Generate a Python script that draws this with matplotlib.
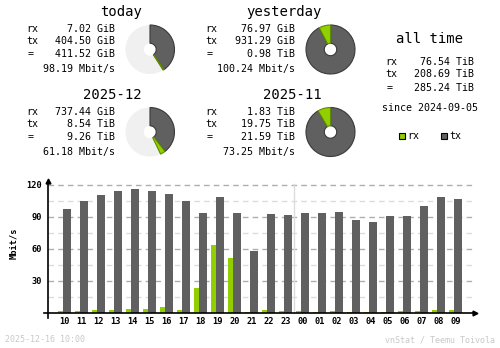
import matplotlib
matplotlib.use("Agg")
import matplotlib.pyplot as plt
from matplotlib.patches import Wedge, Rectangle

# ---------------- data ----------------
titles = ["today", "yesterday", "2025-12", "2025-11"]
rx_vals = [7.02, 76.97, 737.44, 1.83]
rx_units = ["GiB", "GiB", "GiB", "TiB"]
tx_vals = [404.50, 931.29, 8.54, 19.75]
tx_units = ["GiB", "GiB", "TiB", "TiB"]
tot_vals = [411.52, 0.98, 9.26, 21.59]
tot_units = ["GiB", "TiB", "TiB", "TiB"]
rates = [98.19, 100.24, 61.18, 73.25]

alltime_rx = 76.54
alltime_tx = 208.69
alltime_tot = 285.24
since = "2024-09-05"

hours = ["10", "11", "12", "13", "14", "15", "16", "17", "18", "19", "20", "21",
         "22", "23", "00", "01", "02", "03", "04", "05", "06", "07", "08", "09"]
hour_rx = [2.2, 2.2, 3.1, 3.1, 4.1, 4.1, 5.9, 3.1, 23.8, 64.0, 51.9, 1.2,
           3.1, 2.2, 2.2, 1.2, 2.2, 1.2, 1.2, 1.2, 2.2, 2.2, 3.1, 3.1]
hour_tx = [97.8, 105.3, 110.9, 114.7, 116.6, 114.7, 111.9, 105.3, 94.1, 109.1, 94.1, 58.4,
           93.1, 92.2, 94.1, 94.1, 95.0, 87.5, 85.6, 91.3, 91.3, 100.6, 109.1, 107.2]
y_ticks = [30, 60, 90, 120]
y_minor = [15, 45, 75, 105]

timestamp = "2025-12-16 10:00"
credit = "vnStat / Teemu Toivola"

# ---------------- style ----------------
RX = "#92CF00"
RX_EDGE = "#5E8A00"
TX = "#606060"
TX_EDGE = "#3A3A3A"
PIEBG = "#F0F0F0"
MONO = "DejaVu Sans Mono"

W, H = 500, 348
fig = plt.figure(figsize=(W / 100, H / 100), dpi=100)
fig.patch.set_facecolor("white")


def ftext(x, y, s, **kw):
    kw.setdefault("family", MONO)
    kw.setdefault("va", "center")
    fig.text(x / W, 1 - y / H, s, **kw)


def to_gib(v, u):
    return v * 1024 if u == "TiB" else v


# ---------------- summary blocks ----------------
blocks = [
    # label x, value right x, title right x, y offset, pie centre
    (26, 115, 142, 0, (150, 49.5)),
    (205, 295, 322, 0, (330.5, 49.5)),
    (26, 115, 142, 83, (150, 132)),
    (205, 295, 322, 83, (330.5, 132)),
]
prev_index = {0: 1, 2: 3}

for i, (lx, vx, tx_, dy, (cx, cy)) in enumerate(blocks):
    ftext(tx_, 12 + dy, titles[i], ha="right", fontsize=10)
    ftext(lx, 29 + dy, "rx", ha="left", fontsize=7.2)
    ftext(lx, 41 + dy, "tx", ha="left", fontsize=7.2)
    ftext(lx + 2, 54 + dy, "=", ha="left", fontsize=7.2)
    ftext(vx, 29 + dy, f"{rx_vals[i]:.2f} {rx_units[i]}", ha="right", fontsize=7.2)
    ftext(vx, 41 + dy, f"{tx_vals[i]:.2f} {tx_units[i]}", ha="right", fontsize=7.2)
    ftext(vx, 54 + dy, f"{tot_vals[i]:.2f} {tot_units[i]}", ha="right", fontsize=7.2)
    ftext(vx, 69 + dy, f"{rates[i]:.2f} Mbit/s", ha="right", fontsize=7.2)

    # donut
    pax = fig.add_axes([(cx - 26) / W, 1 - (cy + 26) / H, 52 / W, 52 / H])
    pax.set_xlim(-26, 26)
    pax.set_ylim(-26, 26)
    pax.axis("off")
    R, Wd = 24.5, 18.3
    rxg = to_gib(rx_vals[i], rx_units[i])
    txg = to_gib(tx_vals[i], tx_units[i])
    if i in prev_index:
        j = prev_index[i]
        fill = to_gib(tot_vals[i], tot_units[i]) / to_gib(tot_vals[j], tot_units[j])
        fill = min(fill, 1.0)
        pax.add_patch(Wedge((0, 0), R, 0, 360, width=Wd, facecolor=PIEBG, edgecolor="none"))
    else:
        fill = 1.0
    total_angle = 360 * fill
    a_tx = total_angle * txg / (txg + rxg)
    a_rx = total_angle - a_tx
    pax.add_patch(Wedge((0, 0), R, 90 - a_tx, 90, width=Wd,
                        facecolor=TX, edgecolor=TX_EDGE, linewidth=0.8))
    pax.add_patch(Wedge((0, 0), R, 90 - a_tx - a_rx, 90 - a_tx, width=Wd,
                        facecolor=RX, edgecolor=RX_EDGE, linewidth=0.8))

# all time block
ftext(429, 39, "all time", ha="center", fontsize=10)
ftext(385, 62, "rx", ha="left", fontsize=7.2)
ftext(385, 74, "tx", ha="left", fontsize=7.2)
ftext(387, 88, "=", ha="left", fontsize=7.2)
ftext(474, 62, f"{alltime_rx:.2f} TiB", ha="right", fontsize=7.2)
ftext(474, 74, f"{alltime_tx:.2f} TiB", ha="right", fontsize=7.2)
ftext(474, 88, f"{alltime_tot:.2f} TiB", ha="right", fontsize=7.2)
ftext(430, 108, f"since {since}", ha="center", fontsize=7.2)

# legend
fig.patches.append(Rectangle((399 / W, 1 - 139 / H), 6 / W, 6 / H, transform=fig.transFigure,
                             facecolor=RX, edgecolor="black", linewidth=0.8))
ftext(407, 136, "rx", ha="left", fontsize=7.2)
fig.patches.append(Rectangle((441 / W, 1 - 139 / H), 6 / W, 6 / H, transform=fig.transFigure,
                             facecolor=TX, edgecolor="black", linewidth=0.8))
ftext(449, 136, "tx", ha="left", fontsize=7.2)

# ---------------- hourly chart ----------------
STRIDE = 17.0
X0 = 64.8
left_px, right_px = 43.5, 478.0
top_px, bot_px = 178.0, 319.0
zero_px, scale = 313.3, 128.0 / 120.0

xmin = (left_px - X0) / STRIDE
xmax = (right_px - X0) / STRIDE
ymin = -(bot_px - zero_px) / scale
ymax = (zero_px - top_px) / scale

ax = fig.add_axes([left_px / W, 1 - bot_px / H, (right_px - left_px) / W, (bot_px - top_px) / H])
ax.set_xlim(xmin, xmax)
ax.set_ylim(ymin, ymax)
ax.axis("off")

yax_x = (48.3 - X0) / STRIDE
grid_end = (472.7 - X0) / STRIDE

for v in y_minor:
    ax.plot([yax_x, grid_end], [v, v], color="#DCDCDC", lw=1, ls=(0, (4, 3)), zorder=1)
for v in y_ticks:
    ax.plot([yax_x, grid_end], [v, v], color="#AEAEAE", lw=1, ls=(0, (4, 3)), zorder=1)

# day boundary
ax.plot([13.5, 13.5], [0, 121], color="#DCDCDC", lw=1, zorder=1)

xs = list(range(len(hours)))
ax.bar([x - 4 / STRIDE for x in xs], hour_rx, width=5 / STRIDE, color=RX, zorder=2, linewidth=0)
ax.bar([x + 2.5 / STRIDE for x in xs], hour_tx, width=8 / STRIDE, color=TX, zorder=2, linewidth=0)

# axes lines
ax.plot([yax_x, yax_x], [ymin + 0.9, 123], color="black", lw=1.2, zorder=3, clip_on=False)
ax.plot([(44 - X0) / STRIDE, (474 - X0) / STRIDE], [0, 0], color="black", lw=1.2, zorder=3, clip_on=False)
ax.plot([yax_x], [124], marker="^", color="black", markersize=3.5, zorder=3, clip_on=False)
ax.plot([(475 - X0) / STRIDE], [0], marker=">", color="black", markersize=3.5, zorder=3, clip_on=False)

lab_x = (42 - X0) / STRIDE
for v in y_ticks:
    ax.text(lab_x, v, str(v), ha="right", va="center", fontsize=6.2, family=MONO,
            fontweight="bold", clip_on=False)
lab_y = -(321 - zero_px) / scale
for x, h in zip(xs, hours):
    ax.text(x, lab_y, h, ha="center", va="center", fontsize=6.2, family=MONO,
            fontweight="bold", clip_on=False)

ftext(14, 243, "Mbit/s", ha="center", rotation=90, fontsize=6.2, fontweight="bold")

# footer
ftext(5, 340, timestamp, ha="left", fontsize=6, color="#C8C8C8")
ftext(495, 340, credit, ha="right", fontsize=6, color="#C8C8C8")

fig.savefig("out.png", dpi=100, facecolor="white")
